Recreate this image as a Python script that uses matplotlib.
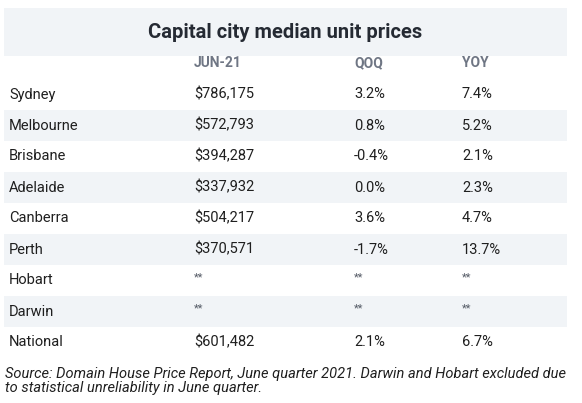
import matplotlib.pyplot as plt
from matplotlib.patches import Rectangle

plt.rcParams['font.family'] = ['Roboto', 'DejaVu Sans']

title = 'Capital city median unit prices'
headers = ['JUN-21', 'QOQ', 'YOY']
cities = ['Sydney', 'Melbourne', 'Brisbane', 'Adelaide', 'Canberra', 'Perth',
          'Hobart', 'Darwin', 'National']
prices = ['$786,175', '$572,793', '$394,287', '$337,932', '$504,217', '$370,571',
          '**', '**', '$601,482']
qoq = ['3.2%', '0.8%', '-0.4%', '0.0%', '3.6%', '-1.7%', '**', '**', '2.1%']
yoy = ['7.4%', '5.2%', '2.1%', '2.3%', '4.7%', '13.7%', '**', '**', '6.7%']
source = ('Source: Domain House Price Report, June quarter 2021. Darwin and Hobart excluded due\n'
          'to statistical unreliability in June quarter.')

band = '#f1f4f7'
txt = '#1f1f1f'

fig = plt.figure(figsize=(5.82, 4.03), dpi=100)
ax = fig.add_axes([0, 0, 1, 1])
ax.set_xlim(0, 582)
ax.set_ylim(403, 0)
ax.axis('off')

# title band
ax.add_patch(Rectangle((4, 8), 563, 48, color=band, lw=0))
ax.text(285, 32, title, ha='center', va='center', fontsize=14.5, fontweight='bold', color='#252a33')

col_x = [194, 354, 462]
for x, h in zip(col_x, headers):
    ax.text(x, 63, h, ha='left', va='center', fontsize=10, fontweight='bold',
            color='#6f7684', fontstretch='expanded')

row_h = 31
y0 = 79
for i, city in enumerate(cities):
    top = y0 + i * row_h
    if i % 2 == 1:
        ax.add_patch(Rectangle((4, top), 563, row_h, color=band, lw=0))
    yc = top + row_h / 2
    ax.text(9, yc, city, ha='left', va='center', fontsize=10.5, color=txt)
    for x, v in zip(col_x, [prices[i], qoq[i], yoy[i]]):
        if v == '**':
            ax.text(x, yc - 3, v, ha='left', va='center', fontsize=8, color='#555b66')
        else:
            ax.text(x, yc, v, ha='left', va='center', fontsize=10.5, color=txt)

ax.text(5, 381, source, ha='left', va='center', fontsize=10.5, style='italic',
        color=txt, linespacing=1.05)

fig.savefig('out.png', dpi=100)
